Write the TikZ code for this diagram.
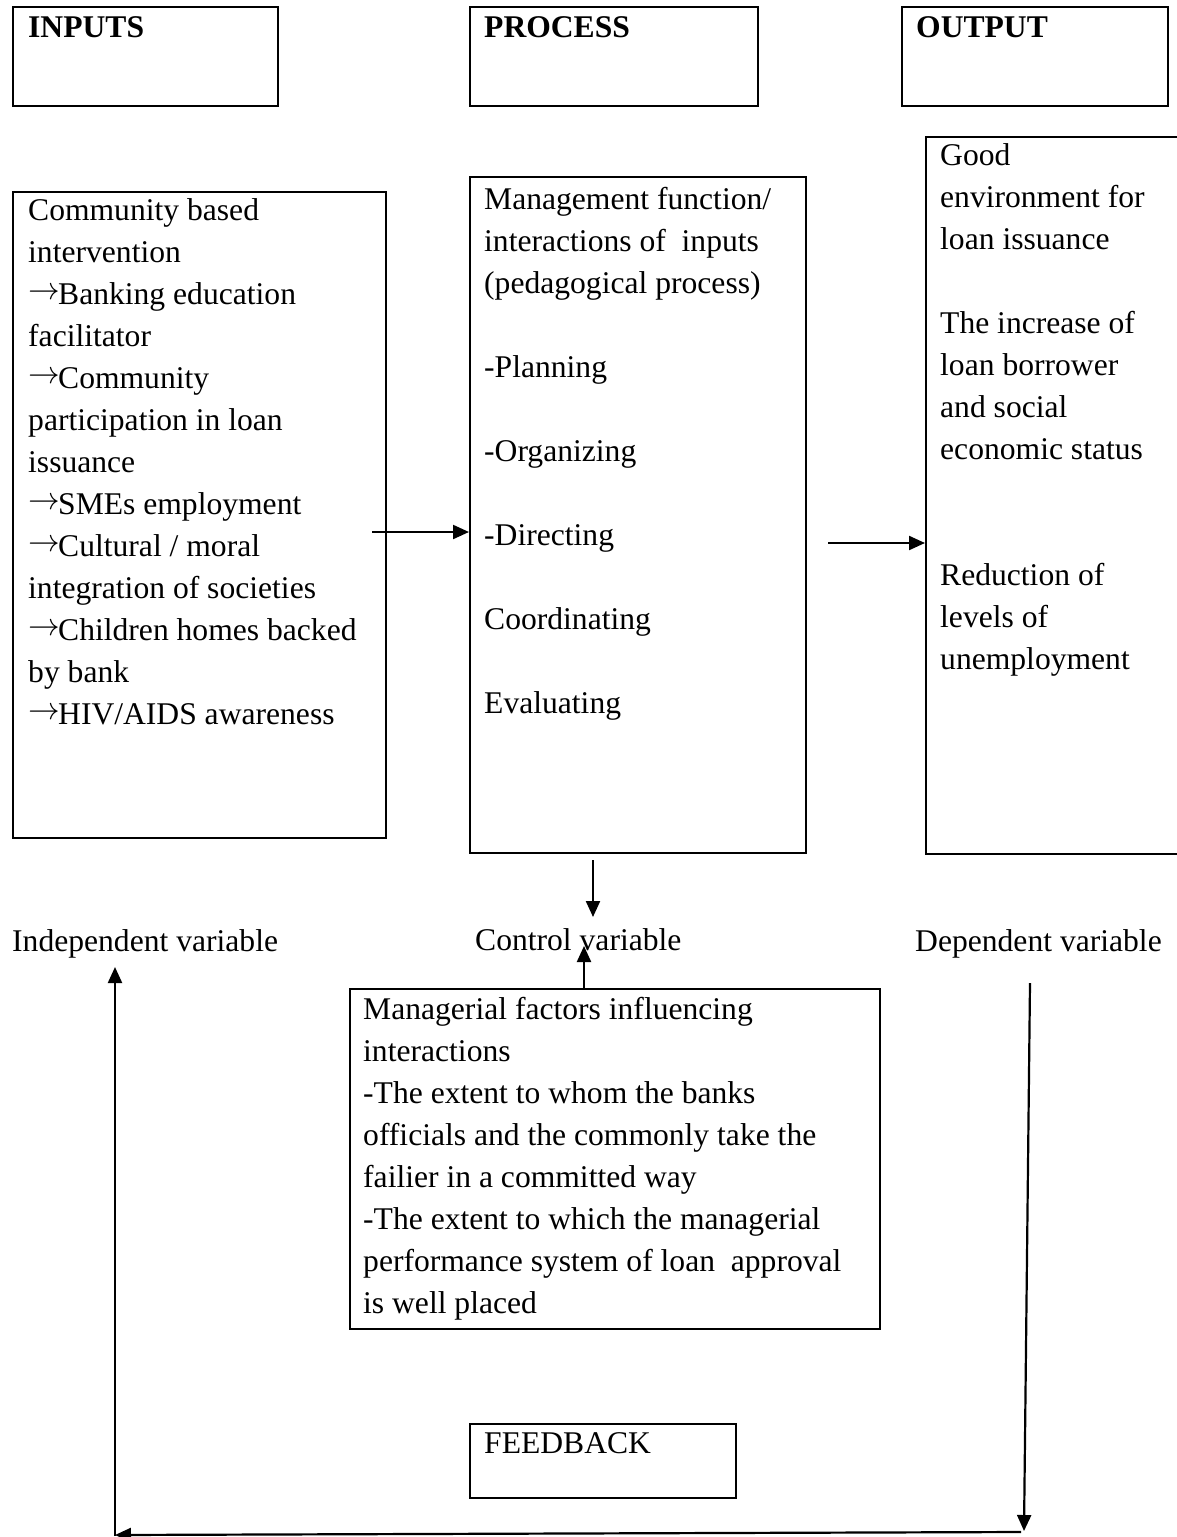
\RequirePackage{fix-cm}
\documentclass[tikz,border=0pt]{standalone}
\usepackage{fontspec}
\setmainfont{Liberation Serif}
\usetikzlibrary{arrows.meta}
\newcommand\diagfont{\fontsize{31.6}{42}\selectfont}
\newcommand\rarr{\makebox[30pt][l]{\raisebox{5pt}{$\rightarrow$}}}
\begin{document}
\begin{tikzpicture}[x=1pt,y=-1pt,
  box/.style={draw, line width=2.2pt, rectangle, anchor=north west, inner sep=0pt},
  txt/.style={anchor=north west, inner sep=0pt, align=left, font=\diagfont},
  conn/.style={line width=2.2pt, -{Triangle[length=16pt,width=14pt]}}]
\useasboundingbox (0,0) rectangle (1176,1537);
\fill[white] (0,0) rectangle (1176,1537);
% header boxes
\node[box, minimum width=265, minimum height=99] (hin) at (12,6) {};
\node[box, minimum width=288, minimum height=99] (hproc) at (469,6) {};
\node[box, minimum width=266, minimum height=99] (hout) at (901,6) {};
\node[txt, font=\diagfont\bfseries] (hintxt) at (28,7.6) {\strut INPUTS};
\node[txt, font=\diagfont\bfseries] (hproctxt) at (484,7.6) {\strut PROCESS};
\node[txt, font=\diagfont\bfseries] (houttxt) at (916,7.6) {\strut OUTPUT};
% main boxes
\node[box, minimum width=373, minimum height=646] (inbox) at (12,191) {};
\node[box, minimum width=336, minimum height=676] (procbox) at (469,176) {};
\node[box, minimum width=260, minimum height=717] (outbox) at (925,136) {};
\node[txt] (intext) at (28,190.6) {\strut Community based\\
intervention\\
\rarr Banking education\\
facilitator\\
\rarr Community\\
participation in loan\\
issuance\\
\rarr SMEs employment\\
\rarr Cultural / moral\\
integration of societies\\
\rarr Children homes backed\\
by bank\\
\rarr HIV/AIDS awareness};
\node[txt] (proctext) at (484,179.6) {\strut Management function/\\
interactions of \ inputs\\
(pedagogical process)\\[42pt]
-Planning\\[42pt]
-Organizing\\[42pt]
-Directing\\[42pt]
Coordinating\\[42pt]
Evaluating};
\node[txt] (outtext) at (940,136.1) {\strut Good\\
environment for\\
loan issuance\\[42pt]
The increase of\\
loan borrower\\
and social\\
economic status\\[84pt]
Reduction of\\
levels of\\
unemployment};
% variable labels
\node[txt] (indep) at (12,921.6) {\strut Independent variable};
\node[txt] (ctrl) at (475,920.6) {\strut Control variable};
\node[txt] (dep) at (915,921.6) {\strut Dependent variable};
% managerial box
\node[box, minimum width=530, minimum height=340] (mgr) at (349,988) {};
\node[txt] (mgrtext) at (363,989.6) {\strut Managerial factors influencing\\
interactions\\
-The extent to whom the banks\\
officials and the commonly take the\\
failier in a committed way\\
-The extent to which the managerial\\
performance system of loan \ approval\\
is well placed};
% feedback
\node[box, minimum width=266, minimum height=74] (fb) at (469,1423) {};
\node[txt] (fbtxt) at (484,1423.6) {\strut FEEDBACK};
% connectors
\coordinate (a1s) at (372,532);
\draw[conn] (a1s) -- (a1s -| procbox.west);
\coordinate (a2s) at (828,543);
\draw[conn] (a2s) -- (a2s -| outbox.west);
\coordinate (a3s) at (593,860);
\coordinate (a3e) at (593,917);
\draw[conn] (a3s) -- (a3e);
\coordinate (a4e) at (584,946);
\draw[conn] (mgr.north -| a4e) -- (a4e);
\coordinate (r1) at (1030,983);
\coordinate (r2) at (1024,1531);
\draw[conn] (r1) -- (r2);
\coordinate (b1) at (1021,1532);
\coordinate (b2) at (115,1535);
\draw[conn] (b1) -- (b2);
\coordinate (l1) at (115,1536);
\coordinate (l2) at (115,967);
\draw[conn] (l1) -- (l2);
\end{tikzpicture}
\end{document}
